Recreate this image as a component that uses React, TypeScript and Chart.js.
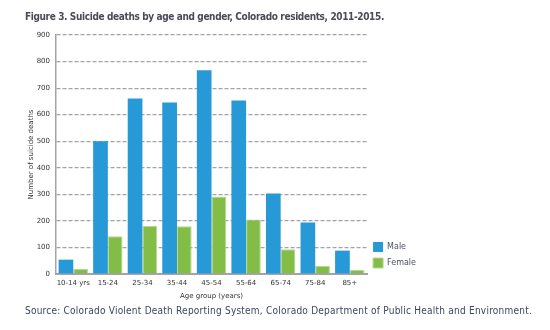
import React, { useEffect, useRef } from "react";
import { Chart, registerables } from "chart.js";

Chart.register(...registerables);

const categories = ["10-14 yrs", "15-24", "25-34", "35-44", "45-54", "55-64", "65-74", "75-84", "85+"];
const maleValues = [54, 500, 661, 646, 767, 653, 303, 194, 88];
const femaleValues = [19, 142, 182, 180, 292, 205, 93, 31, 16];
const yTicks = [0, 100, 200, 300, 400, 500, 600, 700, 800, 900];

const TITLE = "Figure 3. Suicide deaths by age and gender, Colorado residents, 2011-2015.";
const SOURCE = "Source: Colorado Violent Death Reporting System, Colorado Department of Public Health and Environment.";

export default function App() {
  const canvasRef = useRef<HTMLCanvasElement | null>(null);

  useEffect(() => {
    const canvas = canvasRef.current;
    if (!canvas) return;
    const chart = new Chart(canvas, {
      type: "bar",
      data: {
        labels: categories,
        datasets: [
          {
            label: "Male",
            data: maleValues,
            backgroundColor: "#2699D6",
            borderWidth: 0,
          },
          {
            label: "Female",
            data: femaleValues,
            backgroundColor: "#84BC48",
            borderColor: "#B5D990",
            borderWidth: 1,
          },
        ],
      },
      options: {
        animation: false,
        responsive: false,
        maintainAspectRatio: false,
        devicePixelRatio: 1,
        datasets: {
          bar: {
            categoryPercentage: 0.85,
            barPercentage: 1.0,
          },
        },
        layout: {
          padding: { left: 0, right: 124, top: 35, bottom: 30 },
        },
        plugins: {
          legend: {
            position: "right",
            align: "end",
            fullSize: false,
            labels: {
              boxWidth: 10,
              boxHeight: 10,
              padding: 6,
              color: "#4a4f66",
              font: { family: "DejaVu Sans", size: 8 },
            },
          },
          title: { display: false },
          tooltip: { enabled: false },
        },
        scales: {
          x: {
            grid: { display: false, drawTicks: false },
            border: { display: true, color: "#a3a3aa", width: 2 },
            ticks: {
              color: "#333333",
              padding: 5,
              font: { family: "DejaVu Sans", size: 7 },
              maxRotation: 0,
              autoSkip: false,
            },
            title: {
              display: true,
              text: "Age group (years)",
              color: "#333333",
              font: { family: "DejaVu Sans", size: 7 },
              padding: { top: 1, bottom: 0 },
            },
            afterFit: (scale: any) => {
              scale.height = 26;
            },
          },
          y: {
            min: 0,
            max: 900,
            afterBuildTicks: (scale: any) => {
              scale.ticks = yTicks.map((v) => ({ value: v }));
            },
            grid: {
              color: "#a3a3aa",
              lineWidth: 1.2,
              drawTicks: false,
            },
            border: { display: true, color: "#a3a3aa", width: 1.5, dash: [4, 2] },
            ticks: {
              color: "#333333",
              padding: 6,
              font: { family: "DejaVu Sans", size: 7 },
            },
            title: {
              display: true,
              text: "Number of suicide deaths",
              color: "#333333",
              font: { family: "DejaVu Sans", size: 7 },
              padding: { top: 27, bottom: 0 },
            },
            afterFit: (scale: any) => {
              scale.width = 56;
            },
          },
        },
      },
    });
    return () => chart.destroy();
  }, []);

  return (
    <div
      style={{
        position: "fixed",
        left: 0,
        top: 0,
        width: 550,
        height: 330,
        background: "#ffffff",
        overflow: "hidden",
      }}
    >
      <canvas ref={canvasRef} width={550} height={330} style={{ position: "absolute", left: 0, top: 0 }} />
      <div
        style={{
          position: "absolute",
          left: 25,
          top: 10,
          fontFamily: "'DejaVu Sans Condensed', 'DejaVu Sans'",
          fontWeight: "bold",
          fontSize: 10,
          letterSpacing: "-0.37px",
          color: "#4a4a58",
          whiteSpace: "nowrap",
          lineHeight: "14px",
        }}
      >
        {TITLE}
      </div>
      <div
        style={{
          position: "absolute",
          left: 25,
          top: 304,
          fontFamily: "'DejaVu Sans Condensed', 'DejaVu Sans'",
          fontSize: 10,
          letterSpacing: "0.23px",
          color: "#3c4660",
          whiteSpace: "nowrap",
          lineHeight: "14px",
        }}
      >
        {SOURCE}
      </div>
    </div>
  );
}
